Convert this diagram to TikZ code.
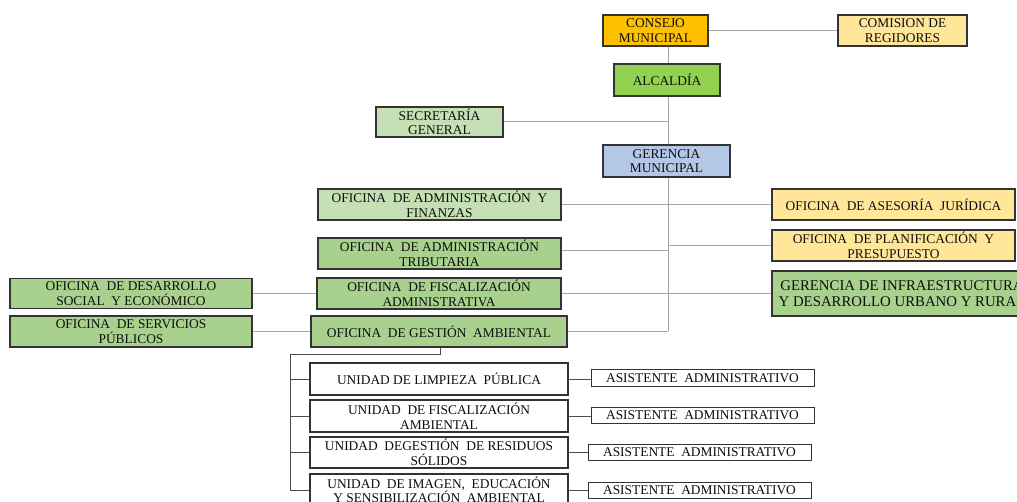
\documentclass[tikz,border=0pt]{standalone}
\usepackage{fontspec}
\setmainfont{Liberation Serif}
\definecolor{cOrange}{HTML}{FFC000}
\definecolor{cYellow}{HTML}{FFE699}
\definecolor{cGreen}{HTML}{92D050}
\definecolor{cLight}{HTML}{C5E0B4}
\definecolor{cMid}{HTML}{A9D18E}
\definecolor{cBlue}{HTML}{B4C7E7}
\definecolor{cLine}{HTML}{A6A6A6}
\definecolor{cBorder}{HTML}{333333}
\begin{document}
\begin{tikzpicture}[x=1pt,y=-1pt,
  box/.style={draw=cBorder,line width=1.3pt,align=center,inner sep=0pt,
    font=\fontsize{13.4}{14.6}\selectfont,text=black!95},
  link/.style={draw=cLine,line width=1pt},
  comb/.style={draw=black!70,line width=0.9pt}]
\useasboundingbox (0,0) rectangle (1017,502);
\clip (0,0) rectangle (1017,502);
% top
\node[box,fill=cOrange,minimum width=105,minimum height=31] (consejo) at (655.5,30.5) {CONSEJO\\MUNICIPAL};
\node[box,fill=cYellow,minimum width=129,minimum height=31] (comision) at (902.5,30.5) {COMISION DE\\REGIDORES};
\node[box,fill=cGreen,minimum width=106,minimum height=32] (alcaldia) at (667,80) {ALCALDÍA};
\node[box,fill=cLight,minimum width=127,minimum height=30] (secretaria) at (439.5,122) {SECRETARÍA\\GENERAL};
\node[box,fill=cBlue,minimum width=127,minimum height=32] (gerencia) at (666.5,161) {GERENCIA\\MUNICIPAL};
% left column
\node[box,fill=cLight,minimum width=243,minimum height=31] (finanzas) at (439.5,204.5) {OFICINA\ \ DE ADMINISTRACIÓN\ \ Y\\FINANZAS};
\node[box,fill=cMid,minimum width=243,minimum height=31] (tributaria) at (439.5,253.5) {OFICINA\ \ DE ADMINISTRACIÓN\\TRIBUTARIA};
\node[box,fill=cMid,minimum width=244,minimum height=31] (fiscal) at (439,293.5) {OFICINA\ \ DE FISCALIZACIÓN\\ADMINISTRATIVA};
\node[box,fill=cMid,minimum width=256,minimum height=31] (gestion) at (439,331.5) {OFICINA\ \ DE GESTIÓN\ \ AMBIENTAL};
\node[box,fill=cMid,minimum width=242,minimum height=30] (desarrollo) at (131,293.5) {OFICINA\ \ DE DESARROLLO\\SOCIAL\ \ Y ECONÓMICO};
\node[box,fill=cMid,minimum width=242,minimum height=31] (servicios) at (131,331.5) {OFICINA\ \ DE SERVICIOS\\PÚBLICOS};
% right column
\node[box,fill=cYellow,minimum width=243,minimum height=31] (asesoria) at (893.5,204.5) {OFICINA\ \ DE ASESORÍA\ \ JURÍDICA};
\node[box,fill=cYellow,minimum width=243,minimum height=31] (planif) at (893.5,245.5) {OFICINA\ \ DE PLANIFICACIÓN\ \ Y\\PRESUPUESTO};
\node[box,fill=cMid,minimum width=260,minimum height=45,font=\fontsize{14.8}{15.5}\selectfont] (infra) at (902,293.5) {GERENCIA DE INFRAESTRUCTURA\\Y DESARROLLO URBANO Y RURAL};
% units
\node[box,fill=white,minimum width=258,minimum height=32] (limp) at (439,379) {UNIDAD DE LIMPIEZA\ \ PÚBLICA};
\node[box,fill=white,minimum width=258,minimum height=32] (fisamb) at (439,416) {UNIDAD\ \ DE FISCALIZACIÓN\\AMBIENTAL};
\node[box,fill=white,minimum width=258,minimum height=31] (residuos) at (439,452.5) {UNIDAD\ \ DEGESTIÓN\ \ DE RESIDUOS\\SÓLIDOS};
\node[box,fill=white,minimum width=258,minimum height=32] (imagen) at (439,490) {UNIDAD\ \ DE IMAGEN,\ \ EDUCACIÓN\\Y SENSIBILIZACIÓN\ \ AMBIENTAL};
\node[box,fill=white,line width=1pt,minimum width=223,minimum height=16] (a1) at (702.5,378) {ASISTENTE\ \ ADMINISTRATIVO};
\node[box,fill=white,line width=1pt,minimum width=223,minimum height=16] (a2) at (702.5,415) {ASISTENTE\ \ ADMINISTRATIVO};
\node[box,fill=white,line width=1pt,minimum width=223,minimum height=16] (a3) at (699.5,452) {ASISTENTE\ \ ADMINISTRATIVO};
\node[box,fill=white,line width=1pt,minimum width=223,minimum height=16] (a4) at (699.5,490) {ASISTENTE\ \ ADMINISTRATIVO};
% connectors
\coordinate (spine) at (668,0);
\draw[link] (consejo.south -| spine) -- (alcaldia.north -| spine);
\draw[link] (alcaldia.south -| spine) -- (gerencia.north -| spine);
\draw[link] (gerencia.south -| spine) -- (gestion.east -| spine);
\draw[link] (consejo.east) -- (comision.west);
\draw[link] (secretaria.east) -- (secretaria.east -| spine);
\draw[link] (finanzas.east) -- (asesoria.west);
\draw[link] ([yshift=3]tributaria.east) -- ([yshift=3]tributaria.east -| spine);
\draw[link] (planif.west) -- (planif.west -| spine);
\draw[link] (fiscal.east) -- (infra.west);
\draw[link] (desarrollo.east) -- (fiscal.west);
\draw[link] (servicios.east) -- (gestion.west);
\draw[link] (gestion.east) -- (gestion.east -| spine);
\coordinate (comb) at (290,354);
\draw[comb] ([xshift=1]gestion.south) |- (comb) -- (comb |- imagen.west) -- (imagen.west);
\draw[comb] (comb |- limp.west) -- (limp.west);
\draw[comb] (comb |- fisamb.west) -- (fisamb.west);
\draw[comb] (comb |- residuos.west) -- (residuos.west);
\draw[comb] (limp.east) -- (limp.east -| a1.west);
\draw[comb] (fisamb.east) -- (fisamb.east -| a2.west);
\draw[comb] (residuos.east) -- (residuos.east -| a3.west);
\draw[comb] (imagen.east) -- (imagen.east -| a4.west);
\end{tikzpicture}
\end{document}
